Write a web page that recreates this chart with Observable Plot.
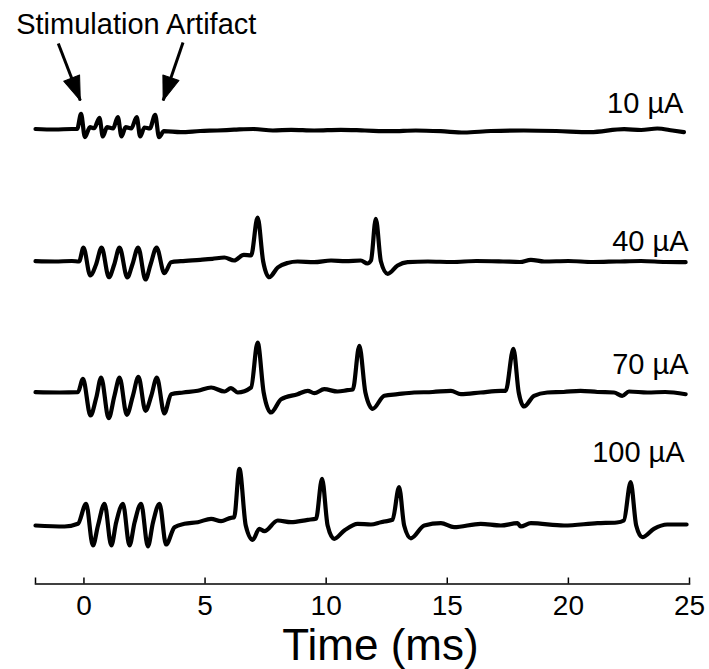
<!DOCTYPE html>
<html>
<head>
<meta charset="utf-8">
<script src="https://cdn.jsdelivr.net/npm/d3@7"></script>
<script src="https://cdn.jsdelivr.net/npm/@observablehq/plot@0.6"></script>
<style>
  body { margin: 0; background: #fff; }
  #chart svg { display: block; }
</style>
</head>
<body>
<div id="chart"></div>
<script>
// Stimulus current of each recording, top to bottom
const currents = ["10 µA", "40 µA", "70 µA", "100 µA"];
// Baseline offset of each recording (amplitude units, stacked)
const offsets = [395, 264, 133, 0];

// Recorded samples: [time (ms), amplitude]
const trace10 = [
  [-2.0, 1.5], [-1.2, 1.0], [-0.5, 1.5], [-0.28, 1.5], [-0.12, 16.7], [0.04, -6.7], [0.25, 3.3], [0.42, 2.3],
  [0.64, 12.7], [0.78, -6], [0.95, 3.3], [1.2, 2], [1.4, 13.3], [1.55, -6], [1.72, 3.3], [1.95, 2],
  [2.18, 13.3], [2.32, -6], [2.5, 3], [2.72, 2], [2.94, 15.7], [3.1, -6.7], [3.3, -0.7], [4.0, -1.7],
  [4.8, -0.5], [5.5, 0], [6.2, 0.8], [7.0, 1.5], [7.8, 0], [8.56, 0.7], [9.5, 0], [10.6, 0.7],
  [11.6, 0], [12.67, -0.7], [13.7, 0], [14.73, -0.7], [15.7, -2], [16.8, -0.5], [18.16, 0], [19.5, -0.5],
  [20.9, -1.7], [22.3, 1.3], [23.0, 0.5], [23.67, 2], [24.3, 0], [24.77, -1.7]
];
const trace40 = [
  [-2.0, 0.3], [-1.2, 0], [-0.5, 0.5], [-0.2, 0], [-0.02, 14], [0.26, -14], [0.5, -3], [0.73, 14],
  [1.03, -15.7], [1.25, -3], [1.47, 14], [1.79, -16], [2.0, -3], [2.24, 14], [2.54, -18], [2.75, -3],
  [3.0, 14], [3.32, -11.7], [3.6, -0.7], [4.0, 0.3], [4.8, 1.7], [5.3, 2.7], [5.8, 4], [6.2, 1],
  [6.6, 6.7], [6.9, 6], [7.17, 44], [7.4, 0], [7.65, -15.7], [8.0, -6], [8.4, -1.5], [8.82, 0],
  [9.5, -0.7], [10.2, 1], [10.8, 0.3], [11.43, 1], [11.7, -2], [11.85, 1], [12.05, 42.7], [12.26, 0],
  [12.54, -12.3], [12.95, -4], [13.36, -0.7], [14.2, 0], [15.2, -0.5], [16.2, 0.5], [17.3, 0], [18.0, -0.5],
  [18.45, 1.7], [19.0, 0], [20.0, 0.5], [21.0, -0.5], [22.0, 0], [23.0, 0.5], [24.0, -0.5], [24.84, -0.7]
];
const trace70 = [
  [-2.0, 0.3], [-1.0, 0], [-0.25, 0.3], [-0.04, 13.7], [0.27, -23], [0.51, -5], [0.71, 15], [1.02, -25.7],
  [1.26, -3.3], [1.47, 15], [1.77, -22.3], [2.02, -3.3], [2.25, 15.7], [2.54, -18.3], [2.78, -3.3], [3.01, 15],
  [3.32, -21], [3.6, -1.7], [4.1, 0], [4.7, 1.7], [5.25, 5], [5.8, 1], [6.07, 4.3], [6.35, 0],
  [6.9, 5], [7.17, 50], [7.42, 0], [7.72, -20], [8.14, -6.7], [8.82, -1.7], [9.24, 1.7], [9.51, -0.7],
  [9.92, 3.3], [10.47, 1], [10.88, 2.3], [11.1, 3], [11.37, 46.7], [11.62, 0], [11.92, -16.3], [12.4, -3.3],
  [12.95, -1.7], [13.63, 0], [14.4, 0.5], [15.15, 1.7], [15.56, -1.7], [16.38, 0], [17.21, 1.7], [17.41, 1.7],
  [17.73, 43.7], [17.95, 0], [18.17, -14], [18.58, -3.3], [19.13, 0], [19.8, 0.5], [20.5, 1.7], [21.2, 0.5],
  [21.88, 0], [22.22, -3.3], [22.5, 1], [23.26, 0], [24.0, 0.5], [24.84, -1.7]
];
const trace100 = [
  [-2.0, 0], [-0.8, -1], [-0.25, 1.7], [0.09, 21.7], [0.37, -20], [0.58, 0], [0.85, 21.7], [1.13, -20],
  [1.33, 3], [1.61, 21.7], [1.88, -20], [2.09, 3], [2.36, 21.7], [2.64, -21], [2.85, 3], [3.12, 21.7],
  [3.39, -19], [3.74, -1.7], [4.15, 1.7], [4.7, 3.3], [5.25, 6.7], [5.66, 4.3], [6.07, 7.7], [6.2, 8],
  [6.42, 56.7], [6.68, 0], [6.97, -14.3], [7.24, -3.3], [7.45, -5.7], [8.0, 5], [8.55, 3.3], [9.24, 5.7],
  [9.58, 6.7], [9.83, 46.7], [10.06, 0], [10.33, -13.3], [10.75, -5], [11.3, 1.7], [11.85, 1], [12.26, 3.3],
  [12.4, 4], [12.74, 5.7], [13.01, 38.3], [13.22, 0], [13.5, -12.8], [14.05, 0], [14.74, 2.3], [15.28, -1.7],
  [16.38, 1.7], [17.21, 0], [17.9, 2.3], [18.03, -1], [18.45, 2.3], [19.82, 0], [21.2, 2.3], [22.0, 3],
  [22.29, 5], [22.57, 43.3], [22.8, 0], [23.05, -11.7], [23.53, -3.3], [24.08, 1], [24.88, 1]
];

// Time axis
const timeDomain = [-2, 25];
const timeTicks = [-2, 0, 5, 10, 15, 20, 25];

// Annotation pointing at the first and last stimulus artifact
const annotation = "Stimulation Artifact";
const arrowTails = [[-1.06, 482], [4.09, 483]];
const arrowTips = [[-0.15, 425], [3.27, 425]];

// ---- layout ----
const W = 709, H = 669;
const mL = 35, mR = 20, mT = 0, mB = 85.5;
const yDomain = [-58.5, 525];
const pxPerMs = (W - mL - mR) / (timeDomain[1] - timeDomain[0]);
const pxPerUnit = (H - mT - mB) / (yDomain[1] - yDomain[0]);

const traces = [trace10, trace40, trace70, trace100];
const rows = traces.flatMap((tr, i) =>
  tr.map(([t, a]) => ({current: currents[i], t, v: a + offsets[i]}))
);

// current labels at the right end of each recording
const labelLift = [18, 11, 19, 64];
const labelEnd = [24.75, 24.96, 24.96, 24.8];
const labels = currents.map((c, i) => ({text: c, t: labelEnd[i], v: offsets[i] + labelLift[i]}));

const arrows = arrowTails.map(([x1, y1], i) => {
  const [x2, y2] = arrowTips[i];
  const dx = (x2 - x1) * pxPerMs, dy = -(y2 - y1) * pxPerUnit;
  return {x1, y1, x2, y2, angle: Math.atan2(dx, -dy) * 180 / Math.PI};
});

// filled triangular arrowhead, tip at the far end of the vector
const head = {
  draw(context, l, r) {
    context.moveTo(-r, 0);
    context.lineTo(0, -l);
    context.lineTo(r, 0);
    context.closePath();
  }
};

const chart = Plot.plot({
  width: W,
  height: H,
  marginLeft: mL,
  marginRight: mR,
  marginTop: mT,
  marginBottom: mB,
  style: {fontFamily: "'Liberation Sans', Arial, sans-serif", fontSize: "28px", color: "black", background: "white"},
  x: {domain: timeDomain},
  y: {domain: yDomain, axis: null},
  marks: [
    Plot.frame({anchor: "bottom", strokeWidth: 1.6}),
    Plot.axisX(timeTicks, {
      tickSize: -6,
      tickPadding: 17,
      strokeWidth: 1.5,
      label: null,
      tickFormat: d => d < 0 ? "" : String(d)
    }),
    Plot.text(["Time (ms)"], {frameAnchor: "bottom", lineAnchor: "bottom", dx: 18, dy: 75.5, fontSize: 44}),
    Plot.line(rows, {
      x: "t", y: "v", z: "current",
      stroke: "black", strokeWidth: 4.2,
      curve: "monotone-x", strokeLinejoin: "round", strokeLinecap: "round"
    }),
    Plot.text(labels, {x: "t", y: "v", text: "text", textAnchor: "end", lineAnchor: "bottom", fontSize: 29}),
    Plot.text([annotation], {x: 2.16, y: 492, textAnchor: "middle", lineAnchor: "bottom", fontSize: 29}),
    Plot.link(arrows, {x1: "x1", y1: "y1", x2: "x2", y2: "y2", stroke: "black", strokeWidth: 3}),
    Plot.vector(arrows, {
      x: "x2", y: "y2", rotate: "angle", length: 24, r: 8.5,
      anchor: "end", shape: head, fill: "black", stroke: "black", strokeWidth: 1
    })
  ]
});

document.getElementById("chart").appendChild(chart);
</script>
</body>
</html>
